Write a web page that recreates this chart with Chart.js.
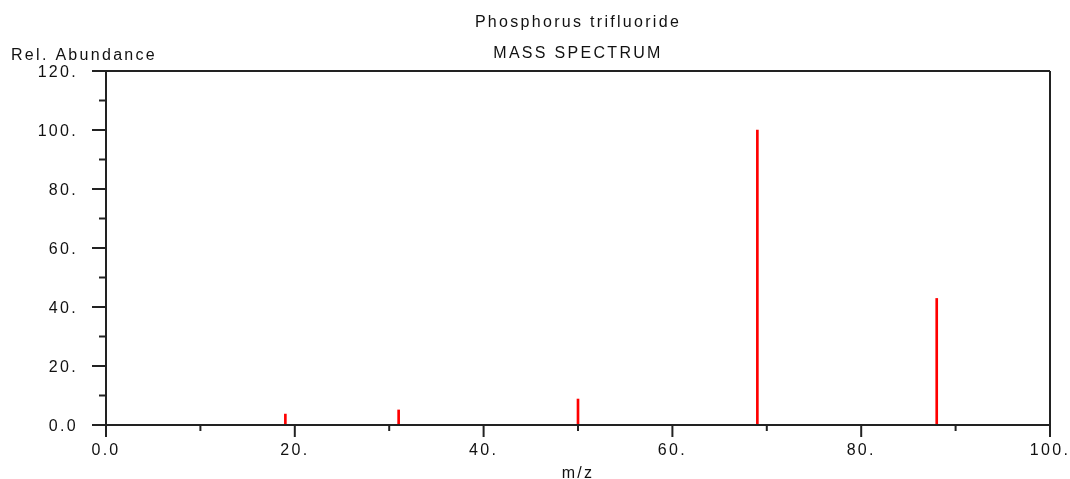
<!DOCTYPE html>
<html>
<head>
<meta charset="utf-8">
<script src="https://cdn.jsdelivr.net/npm/chart.js@4"></script>
<style>
    html, body { margin: 0; padding: 0; background: #fff; }
    #wrap { width: 1070px; height: 479px; }
</style>
</head>
<body>
<div id="wrap"><canvas id="spectrum"></canvas></div>
<script>
// peaks
const mz = [19, 31, 50, 69, 88];
const abundance = [3.7, 5.1, 8.8, 100, 42.9];

const xMajor = [0, 20, 40, 60, 80, 100];
const xMinor = [10, 30, 50, 70, 90];
const yMajor = [0, 20, 40, 60, 80, 100, 120];
const yMinor = [10, 30, 50, 70, 90, 110];

const titleText = 'Phosphorus trifluoride';
const subtitleText = 'MASS SPECTRUM';
const yLabel = 'Rel. Abundance';
const xLabel = 'm/z';

const FONT = "'Liberation Sans', Arial, sans-serif";
const SPACING = '2.3px';

Chart.defaults.font.family = FONT;
Chart.defaults.font.size = 16;
Chart.defaults.color = '#111';

const fmt = (v) => v === 0 ? '0.0' : v + '.';

// axes, ticks and text drawn the old-fashioned way
const frame = {
    id: 'frame',
    beforeDraw(chart) {
        chart.ctx.letterSpacing = SPACING;
    },
    afterDraw(chart) {
        const { ctx, chartArea: a, scales: { x, y } } = chart;
        ctx.save();
        ctx.strokeStyle = '#222';
        ctx.lineWidth = 2;

        const line = (x1, y1, x2, y2) => {
            ctx.beginPath();
            ctx.moveTo(x1, y1);
            ctx.lineTo(x2, y2);
            ctx.stroke();
        };

        // box
        line(a.left, a.top, a.left, a.bottom);
        line(a.left, a.bottom, a.right, a.bottom);
        line(a.left, a.top, a.right, a.top);
        line(a.right, a.top, a.right, a.bottom);

        xMajor.forEach(v => { const p = x.getPixelForValue(v); line(p, a.bottom, p, a.bottom + 12); });
        xMinor.forEach(v => { const p = x.getPixelForValue(v); line(p, a.bottom, p, a.bottom + 6); });
        yMajor.forEach(v => { const p = y.getPixelForValue(v); line(a.left - 14, p, a.left, p); });
        yMinor.forEach(v => { const p = y.getPixelForValue(v); line(a.left - 7, p, a.left, p); });

        ctx.letterSpacing = SPACING;
        ctx.fillStyle = '#111';
        ctx.font = '16px ' + FONT;
        ctx.textBaseline = 'alphabetic';
        const cx = (a.left + a.right) / 2;

        ctx.textAlign = 'center';
        ctx.fillText(titleText, cx, 27);
        ctx.fillText(subtitleText, cx, 58);
        ctx.fillText(xLabel, cx, 478);

        ctx.textAlign = 'left';
        ctx.fillText(yLabel, 11, 60);
        ctx.restore();
    }
};

new Chart(document.getElementById('spectrum'), {
    type: 'bar',
    data: {
        datasets: [{
            data: mz.map((m, i) => ({ x: m, y: abundance[i] })),
            backgroundColor: '#ff0000',
            borderWidth: 0,
            barThickness: 2
        }]
    },
    options: {
        responsive: true,
        maintainAspectRatio: false,
        animation: false,
        events: [],
        layout: {
            padding: { left: 0, right: 20, top: 71, bottom: 0 }
        },
        plugins: {
            legend: { display: false },
            tooltip: { enabled: false }
        },
        scales: {
            x: {
                type: 'linear',
                min: 0,
                max: 100,
                offset: false,
                grid: { display: false },
                border: { display: false },
                afterFit: (s) => { s.height = 54; s.paddingLeft = 0; s.paddingRight = 0; },
                ticks: {
                    stepSize: 20,
                    padding: 8,
                    maxRotation: 0,
                    autoSkip: false,
                    callback: (v) => fmt(v)
                }
            },
            y: {
                min: 0,
                max: 120,
                grid: { display: false },
                border: { display: false },
                afterFit: (s) => { s.width = 106; s.paddingTop = 0; s.paddingBottom = 0; },
                ticks: {
                    stepSize: 20,
                    padding: 20,
                    labelOffset: 2,
                    callback: (v) => fmt(v)
                }
            }
        }
    },
    plugins: [frame]
});
</script>
</body>
</html>
